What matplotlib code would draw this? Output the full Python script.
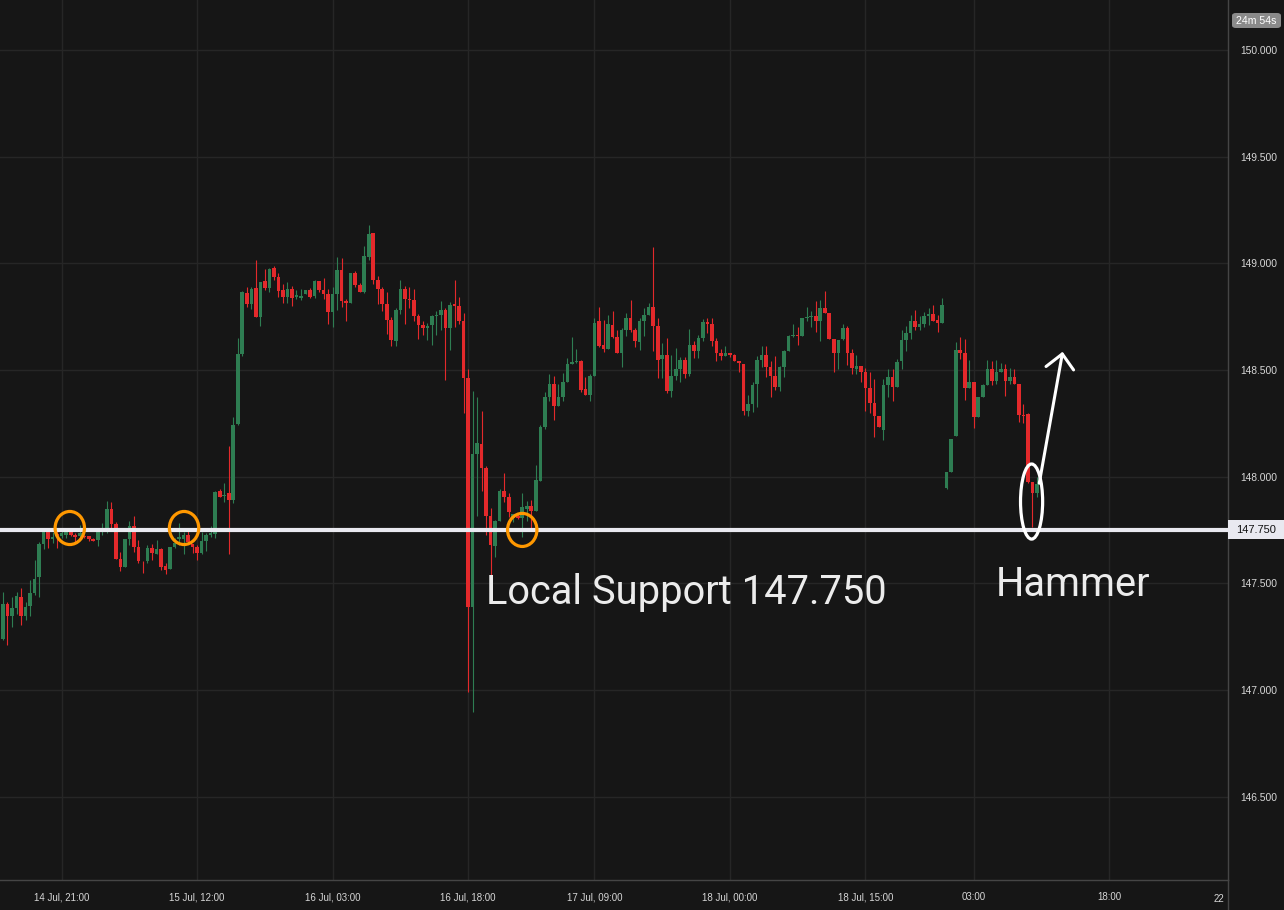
import numpy as np
import matplotlib.pyplot as plt
from matplotlib.patches import Ellipse, Rectangle, FancyBboxPatch
from matplotlib.lines import Line2D
import matplotlib.transforms as mtransforms

# =========================================================
# DATA (30 min candles)
# =========================================================

opens = [
    147.239, 147.403, 147.347, 147.383, 147.436, 147.347, 147.394, 147.453, 147.527, 147.684,
    147.742, 147.708, 147.731, 147.722, 147.727, 147.742, 147.727, 147.723, 147.722, 147.722,
    147.708, 147.703, 147.738, 147.738, 147.848, 147.778, 147.614, 147.578, 147.708, 147.769,
    147.669, 147.605, 147.602, 147.664, 147.636, 147.661, 147.581, 147.567, 147.669, 147.706,
    147.708, 147.727, 147.684, 147.672, 147.644, 147.700, 147.727, 147.730, 147.933, 147.908,
    147.922, 147.888, 148.247, 148.575, 148.862, 148.811, 148.884, 148.750, 148.917, 148.884,
    148.978, 148.936, 148.875, 148.842, 148.880, 148.844, 148.838, 148.856, 148.875, 148.847,
    148.917, 148.875, 148.856, 148.773, 148.856, 148.969, 148.825, 148.816, 148.955, 148.898,
    148.866, 149.031, 149.142, 148.922, 148.880, 148.809, 148.734, 148.636, 148.783, 148.880,
    148.833, 148.828, 148.753, 148.711, 148.697, 148.711, 148.753, 148.758, 148.781, 148.697,
    148.809, 148.800, 148.730, 148.463, 147.391, 148.106, 148.153, 148.038, 147.817, 147.673,
    147.794, 147.934, 147.903, 147.806, 147.817, 147.806, 147.850, 147.863, 147.838, 147.980,
    148.231, 148.375, 148.436, 148.333, 148.375, 148.445, 148.530, 148.538, 148.544, 148.411,
    148.384, 148.473, 148.727, 148.617, 148.598, 148.711, 148.656, 148.581, 148.688, 148.744,
    148.688, 148.633, 148.730, 148.758, 148.795, 148.706, 148.552, 148.570, 148.402, 148.472,
    148.505, 148.547, 148.481, 148.617, 148.589, 148.650, 148.725, 148.716, 148.636, 148.581,
    148.567, 148.577, 148.570, 148.544, 148.528, 148.309, 148.338, 148.434, 148.547, 148.572,
    148.513, 148.473, 148.422, 148.513, 148.588, 148.658, 148.664, 148.661, 148.745, 148.750,
    148.755, 148.727, 148.788, 148.769, 148.647, 148.580, 148.647, 148.698, 148.580, 148.506,
    148.520, 148.492, 148.413, 148.347, 148.286, 148.220, 148.427, 148.469, 148.419, 148.544,
    148.642, 148.675, 148.731, 148.703, 148.717, 148.755, 148.761, 148.733, 148.722, 147.948,
    148.023, 148.188, 148.595, 148.581, 148.413, 148.445, 148.281, 148.375, 148.431, 148.506,
    148.450, 148.492, 148.506, 148.450, 148.469, 148.436, 148.291, 148.295, 147.975, 147.925,
]

highs = [
    147.459, 147.414, 147.437, 147.459, 147.477, 147.414, 147.513, 147.609, 147.695, 147.747,
    147.750, 147.742, 147.750, 147.750, 147.750, 147.742, 147.734, 147.773, 147.725, 147.722,
    147.714, 147.745, 147.781, 147.886, 147.880, 147.789, 147.648, 147.708, 147.792, 147.816,
    147.703, 147.605, 147.680, 147.684, 147.703, 147.664, 147.597, 147.672, 147.711, 147.784,
    147.742, 147.750, 147.684, 147.680, 147.742, 147.734, 147.769, 147.933, 147.942, 147.970,
    148.144, 148.278, 148.648, 148.870, 148.888, 148.889, 149.016, 148.913, 148.973, 148.978,
    148.988, 148.955, 148.903, 148.913, 148.894, 148.875, 148.880, 148.875, 148.884, 148.922,
    148.917, 148.931, 148.880, 148.889, 149.030, 149.025, 148.833, 148.955, 148.964, 148.908,
    149.081, 149.180, 149.142, 148.941, 148.889, 148.866, 148.748, 148.788, 148.922, 148.894,
    148.889, 148.880, 148.763, 148.730, 148.720, 148.758, 148.777, 148.823, 148.788, 148.819,
    148.922, 148.842, 148.767, 148.505, 148.402, 148.373, 148.308, 148.050, 147.855, 147.797,
    147.942, 148.016, 147.925, 147.825, 147.830, 147.925, 147.884, 147.890, 148.056, 148.244,
    148.398, 148.483, 148.470, 148.436, 148.486, 148.556, 148.652, 148.600, 148.548, 148.469,
    148.480, 148.742, 148.797, 148.734, 148.758, 148.777, 148.688, 148.695, 148.767, 148.828,
    148.695, 148.744, 148.791, 148.814, 149.077, 148.744, 148.627, 148.650, 148.570, 148.603,
    148.561, 148.561, 148.692, 148.636, 148.664, 148.739, 148.742, 148.744, 148.650, 148.598,
    148.613, 148.580, 148.575, 148.544, 148.528, 148.384, 148.442, 148.563, 148.614, 148.614,
    148.541, 148.567, 148.520, 148.595, 148.664, 148.713, 148.703, 148.745, 148.797, 148.778,
    148.825, 148.830, 148.872, 148.769, 148.647, 148.642, 148.713, 148.708, 148.598, 148.572,
    148.520, 148.511, 148.488, 148.459, 148.286, 148.459, 148.506, 148.506, 148.553, 148.689,
    148.708, 148.759, 148.783, 148.755, 148.773, 148.788, 148.802, 148.759, 148.839, 148.023,
    148.178, 148.630, 148.656, 148.647, 148.548, 148.445, 148.375, 148.434, 148.548, 148.544,
    148.548, 148.534, 148.530, 148.511, 148.502, 148.436, 148.342, 148.300, 147.975, 148.000,
]

lows = [
    147.234, 147.211, 147.297, 147.356, 147.305, 147.328, 147.347, 147.445, 147.434, 147.659,
    147.664, 147.691, 147.667, 147.711, 147.711, 147.722, 147.695, 147.719, 147.714, 147.700,
    147.698, 147.675, 147.727, 147.734, 147.758, 147.614, 147.558, 147.578, 147.680, 147.645,
    147.594, 147.550, 147.597, 147.609, 147.636, 147.562, 147.544, 147.567, 147.664, 147.677,
    147.636, 147.691, 147.641, 147.609, 147.638, 147.652, 147.719, 147.711, 147.903, 147.880,
    147.638, 147.875, 148.242, 148.563, 148.797, 148.784, 148.750, 148.708, 148.875, 148.867,
    148.922, 148.844, 148.814, 148.814, 148.800, 148.833, 148.828, 148.856, 148.838, 148.838,
    148.866, 148.833, 148.716, 148.703, 148.780, 148.797, 148.731, 148.816, 148.889, 148.863,
    148.861, 149.013, 148.903, 148.809, 148.778, 148.669, 148.613, 148.613, 148.763, 148.716,
    148.791, 148.730, 148.645, 148.664, 148.641, 148.617, 148.664, 148.688, 148.453, 148.594,
    148.700, 148.716, 148.298, 146.992, 146.898, 147.813, 147.934, 147.728, 147.522, 147.625,
    147.794, 147.880, 147.809, 147.786, 147.800, 147.716, 147.794, 147.755, 147.838, 147.980,
    148.223, 148.356, 148.267, 148.333, 148.356, 148.445, 148.530, 148.534, 148.398, 148.384,
    148.356, 148.473, 148.609, 148.586, 148.598, 148.648, 148.577, 148.516, 148.659, 148.680,
    148.609, 148.595, 148.659, 148.758, 148.591, 148.464, 148.464, 148.394, 148.375, 148.453,
    148.444, 148.463, 148.472, 148.556, 148.556, 148.636, 148.672, 148.613, 148.544, 148.548,
    148.563, 148.561, 148.541, 148.492, 148.291, 148.283, 148.302, 148.325, 148.513, 148.469,
    148.372, 148.408, 148.403, 148.466, 148.588, 148.656, 148.619, 148.661, 148.731, 148.700,
    148.680, 148.634, 148.766, 148.647, 148.492, 148.502, 148.642, 148.525, 148.483, 148.483,
    148.445, 148.309, 148.300, 148.184, 148.234, 148.173, 148.372, 148.356, 148.419, 148.502,
    148.589, 148.647, 148.689, 148.689, 148.700, 148.711, 148.731, 148.680, 148.722, 147.944,
    148.023, 148.188, 148.553, 148.361, 148.413, 148.230, 148.277, 148.375, 148.431, 148.427,
    148.436, 148.488, 148.380, 148.436, 148.436, 148.255, 148.253, 147.969, 147.763, 147.906,
]

closes = [
    147.403, 147.347, 147.383, 147.441, 147.347, 147.388, 147.453, 147.519, 147.684, 147.742,
    147.708, 147.716, 147.722, 147.734, 147.742, 147.727, 147.719, 147.734, 147.716, 147.708,
    147.698, 147.738, 147.742, 147.848, 147.778, 147.614, 147.578, 147.708, 147.769, 147.669,
    147.605, 147.602, 147.664, 147.641, 147.661, 147.578, 147.562, 147.669, 147.691, 147.719,
    147.727, 147.695, 147.672, 147.644, 147.700, 147.727, 147.734, 147.930, 147.906, 147.911,
    147.888, 148.242, 148.575, 148.866, 148.811, 148.880, 148.750, 148.913, 148.884, 148.973,
    148.936, 148.870, 148.842, 148.880, 148.838, 148.852, 148.847, 148.875, 148.842, 148.917,
    148.875, 148.856, 148.773, 148.856, 148.969, 148.825, 148.816, 148.955, 148.898, 148.863,
    149.034, 149.138, 148.922, 148.880, 148.809, 148.734, 148.641, 148.783, 148.880, 148.833,
    148.828, 148.753, 148.711, 148.697, 148.706, 148.753, 148.758, 148.781, 148.697, 148.805,
    148.800, 148.730, 148.463, 147.391, 148.106, 148.158, 148.038, 147.817, 147.677, 147.794,
    147.934, 147.903, 147.836, 147.825, 147.806, 147.859, 147.863, 147.838, 147.986, 148.231,
    148.375, 148.436, 148.330, 148.375, 148.445, 148.530, 148.539, 148.542, 148.408, 148.384,
    148.473, 148.722, 148.614, 148.598, 148.714, 148.656, 148.577, 148.688, 148.744, 148.688,
    148.636, 148.731, 148.758, 148.795, 148.706, 148.547, 148.570, 148.402, 148.472, 148.505,
    148.547, 148.481, 148.617, 148.589, 148.650, 148.725, 148.716, 148.636, 148.581, 148.567,
    148.577, 148.570, 148.544, 148.534, 148.309, 148.338, 148.431, 148.547, 148.572, 148.513,
    148.473, 148.419, 148.513, 148.588, 148.658, 148.664, 148.661, 148.745, 148.750, 148.755,
    148.731, 148.788, 148.769, 148.647, 148.577, 148.642, 148.698, 148.577, 148.511, 148.520,
    148.492, 148.413, 148.347, 148.286, 148.234, 148.427, 148.469, 148.419, 148.539, 148.642,
    148.675, 148.731, 148.703, 148.717, 148.755, 148.761, 148.731, 148.722, 148.806, 148.023,
    148.178, 148.595, 148.581, 148.413, 148.445, 148.281, 148.375, 148.431, 148.506, 148.450,
    148.492, 148.506, 148.450, 148.469, 148.436, 148.291, 148.286, 147.975, 147.925, 147.964,
]

price_ticks = [146.5, 147.0, 147.5, 148.0, 148.5, 149.0, 149.5, 150.0]
time_ticks = [13, 43, 73, 103, 131, 161, 191, 215, 245]
time_labels = ["14 Jul, 21:00", "15 Jul, 12:00", "16 Jul, 03:00", "16 Jul, 18:00",
               "17 Jul, 09:00", "18 Jul, 00:00", "18 Jul, 15:00", "03:00", "18:00"]

support = 147.750
touches = [(14.8, 147.759), (40.1, 147.759), (115.0, 147.750)]

# =========================================================
# STYLE
# =========================================================

BG = "#161616"
GRID = "#262626"
AXIS = "#454545"
GREEN = "#2e7d52"
RED = "#e3292b"
TXT = "#d6d6d6"

W, H = 1284, 910
fig = plt.figure(figsize=(W / 100, H / 100), dpi=100, facecolor=BG)
ax = fig.add_axes([0, 30 / H, 1228 / W, 880 / H])
ax.set_facecolor(BG)

o = np.array(opens)
hi = np.array(highs)
lo = np.array(lows)
c = np.array(closes)
x = np.arange(len(c))
colors = np.where(c >= o, GREEN, RED)

# =========================================================
# CANDLES
# =========================================================

ax.vlines(x, lo, hi, colors=colors, linewidth=0.8, zorder=3)
ax.bar(x, np.maximum(np.abs(c - o), 0.004), bottom=np.minimum(o, c),
       width=0.8, color=colors, linewidth=0, zorder=4)

ax.set_xlim(-0.66, 271.3)
ax.set_ylim(146.109, 150.234)

# =========================================================
# AXES
# =========================================================

ax.set_yticks(price_ticks)
ax.set_yticklabels([f"{v:.3f}" for v in price_ticks])
ax.yaxis.tick_right()
ax.set_xticks(time_ticks)
ax.set_xticklabels(time_labels)
ax.tick_params(axis="y", length=0, pad=9, labelsize=7.4, labelcolor=TXT)
ax.tick_params(axis="x", length=0, pad=9, labelsize=7.0, labelcolor=TXT)
for lab in ax.get_xticklabels() + ax.get_yticklabels():
    lab.set_fontfamily("Liberation Sans")
ax.grid(True, color=GRID, linewidth=1.0, zorder=0)
ax.set_axisbelow(True)
for side in ["top", "left"]:
    ax.spines[side].set_visible(False)
for side in ["right", "bottom"]:
    ax.spines[side].set_color(AXIS)
    ax.spines[side].set_linewidth(1.0)

fig.add_artist(Line2D([1228 / W, 1228 / W], [0, 30 / H], color=AXIS, linewidth=1.0))

trans_x = mtransforms.blended_transform_factory(ax.transData, ax.transAxes)
ax.text(269.3, -0.0215, "22", transform=trans_x, ha="center", va="center",
        fontsize=7.0, color=TXT, family="Liberation Sans", clip_on=False)

# =========================================================
# SUPPORT LINE + PRICE LABEL
# =========================================================

ax.axhline(support, color="#e9e9f0", linewidth=3.0, zorder=6)

y_disp = ax.transData.transform((0, support))[1] / H
fig.add_artist(Rectangle((1228 / W, y_disp - 9.5 / H), 56 / W, 19 / H,
                         facecolor="#e9e9f0", edgecolor="none"))
fig.text(1256 / W, y_disp, f"{support:.3f}", ha="center", va="center",
         fontsize=8, color="#131313", family="Liberation Sans")

fig.add_artist(FancyBboxPatch((1232 / W, (H - 28) / H), 49 / W, 15 / H,
                              boxstyle="round,pad=0,rounding_size=0.003",
                              facecolor="#8a8a8a", edgecolor="none"))
fig.text(1256.5 / W, (H - 20.5) / H, "24m 54s", ha="center", va="center",
         fontsize=7.6, color="#ffffff", family="Liberation Sans")

# =========================================================
# ANNOTATIONS
# =========================================================

for tx, ty in touches:
    ax.add_patch(Ellipse((tx, ty), width=6.5, height=0.155, fill=False,
                         edgecolor="#ff9800", linewidth=2.3, zorder=7))

ax.add_patch(Ellipse((227.8, 147.883), width=4.9, height=0.352, fill=False,
                     edgecolor="white", linewidth=2.3, zorder=7))
ax.plot([229.5, 234.6], [147.969, 148.575], color="white", linewidth=2.2,
        solid_capstyle="round", zorder=7)
ax.plot([231.0, 234.6, 237.1], [148.516, 148.575, 148.500], color="white",
        linewidth=2.2, solid_capstyle="round", solid_joinstyle="round", zorder=7)

ax.text(107.0, 147.459, f"Local Support {support:.3f}", ha="left", va="center",
        fontsize=28.7, color="#ececec", family="Roboto", zorder=8)
ax.text(219.9, 147.492, "Hammer", ha="left", va="center",
        fontsize=28.7, color="#ececec", family="Roboto", zorder=8)

fig.savefig("out.png", dpi=100, facecolor=BG)
